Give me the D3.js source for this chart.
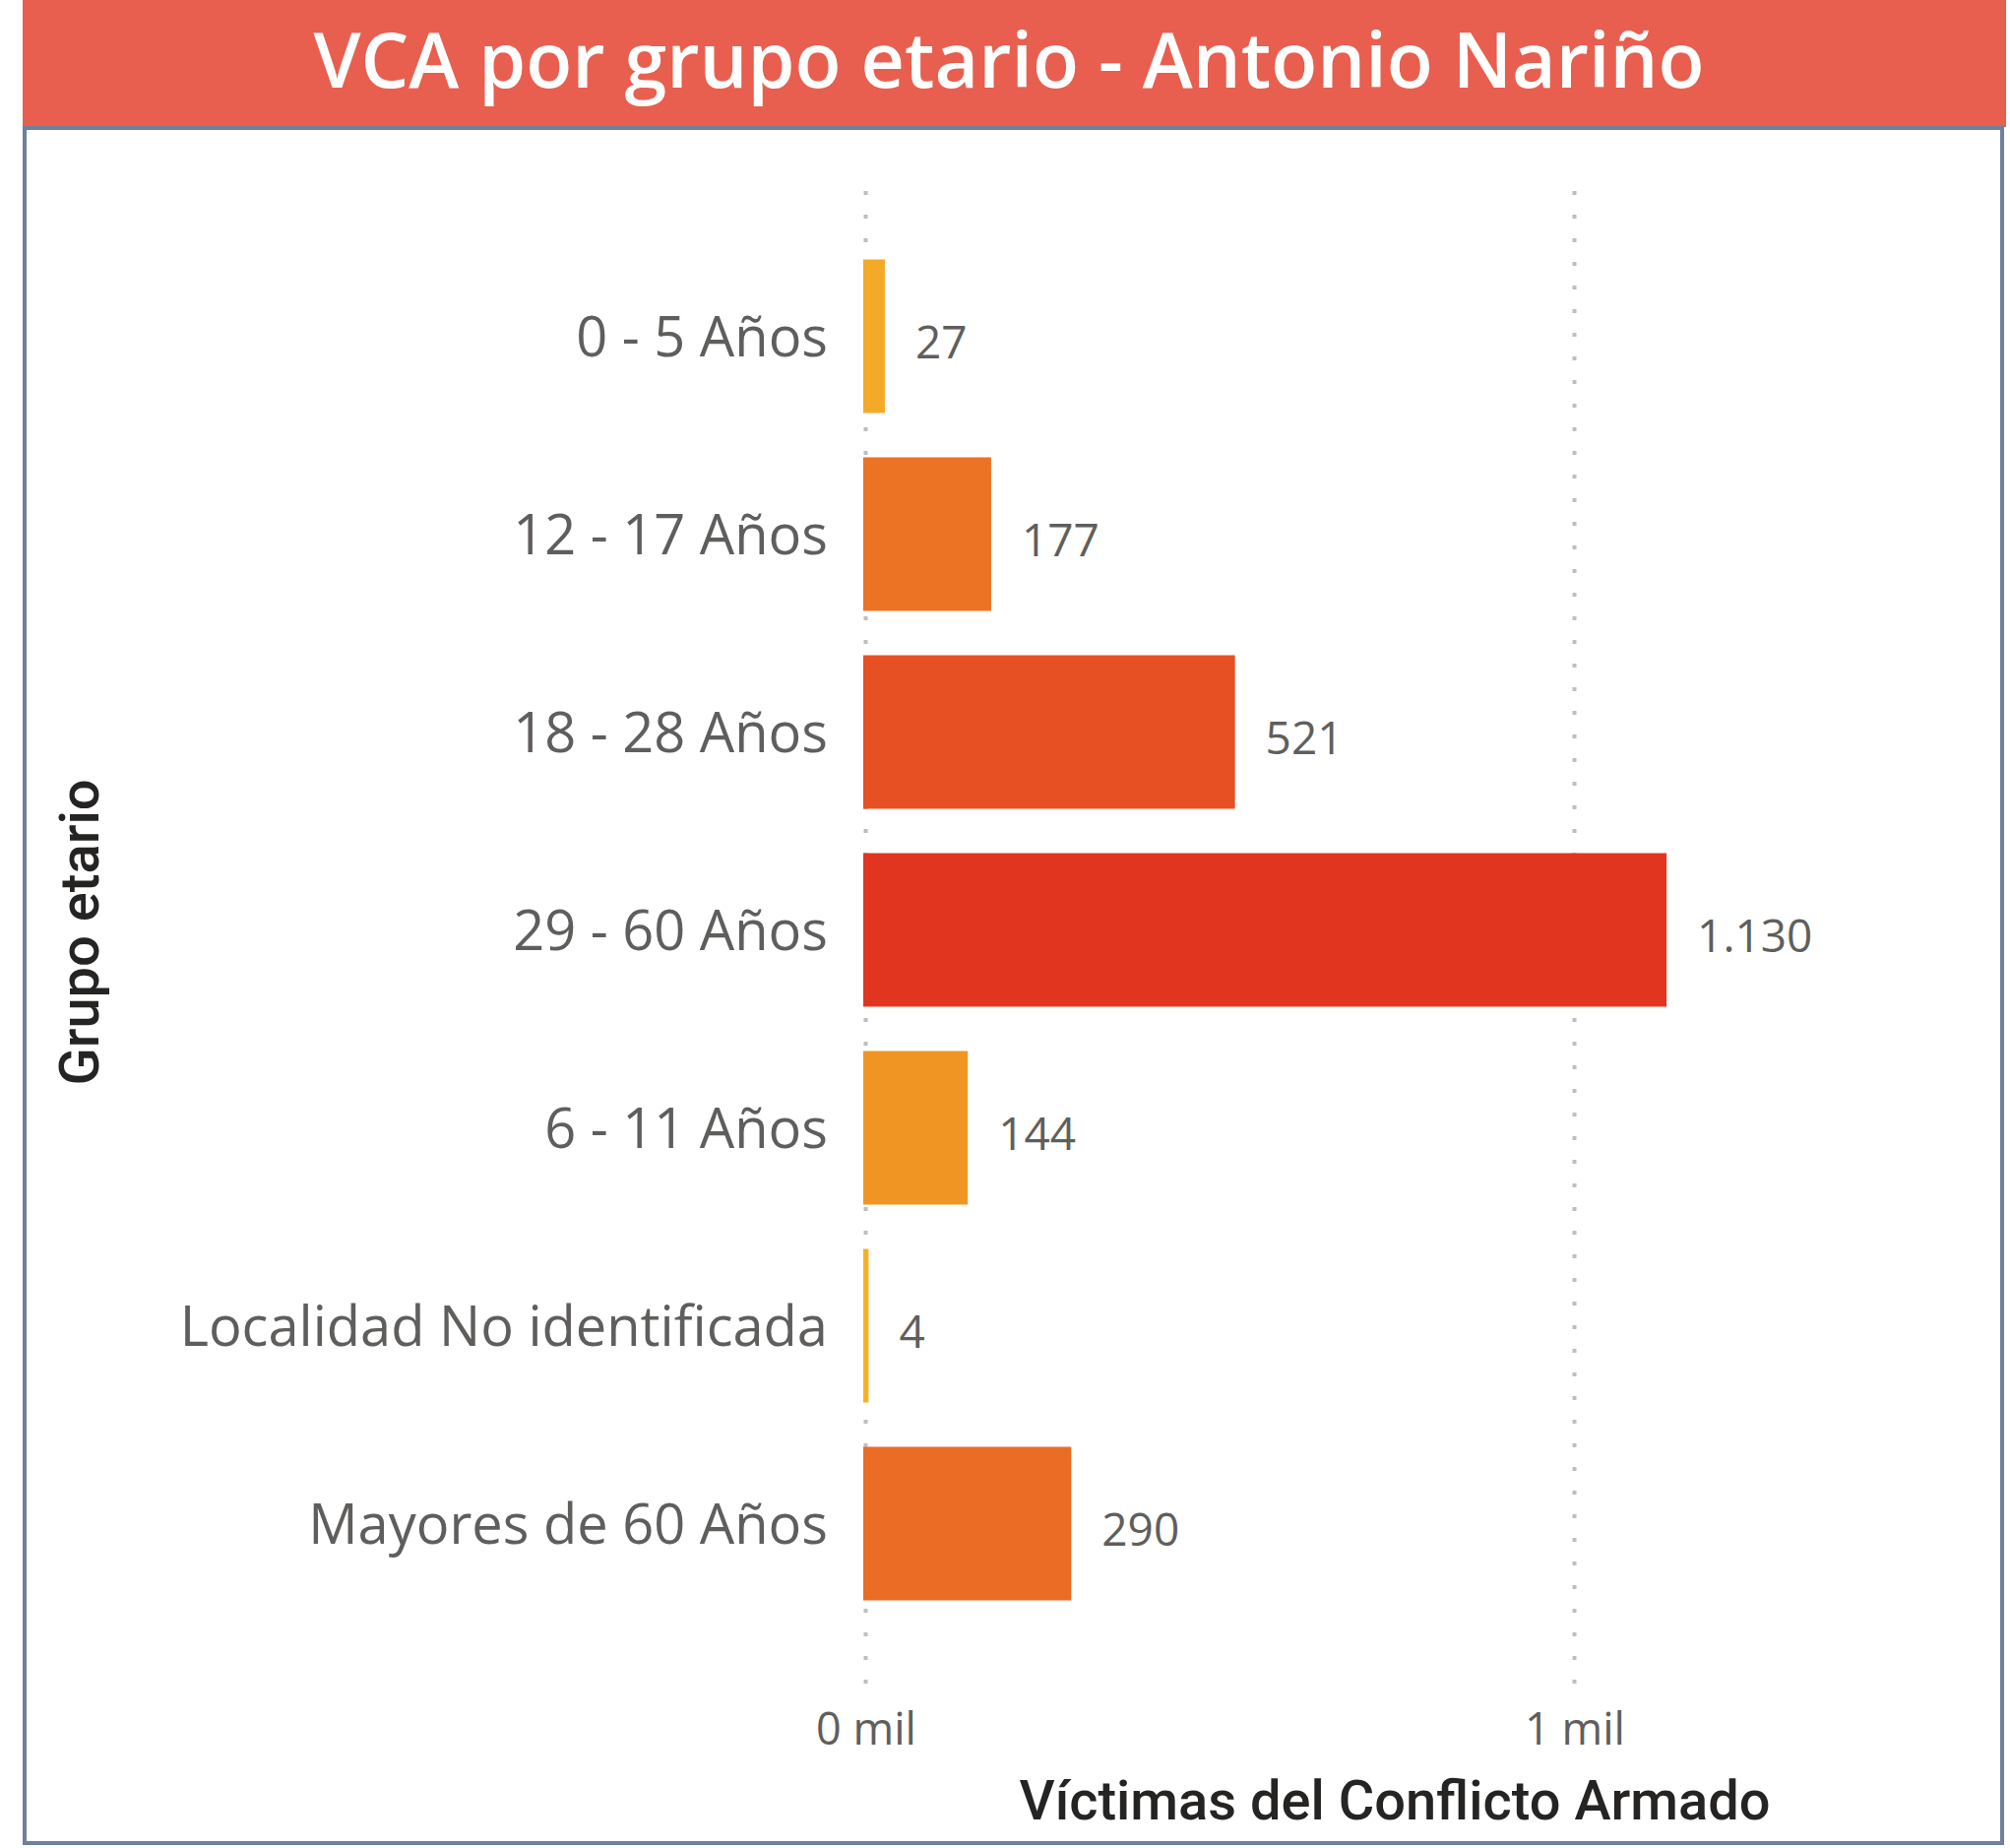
<!DOCTYPE html>
<html>
<head>
<meta charset="utf-8">
<script src="https://cdn.jsdelivr.net/npm/d3@7"></script>
<style>
  body { margin: 0; background: #fff; }
  svg { display: block; }
</style>
</head>
<body>
<svg id="chart" width="2042" height="1877"></svg>
<script>
// data
var categorias = ["0 - 5 Años", "12 - 17 Años", "18 - 28 Años", "29 - 60 Años",
                  "6 - 11 Años", "Localidad No identificada", "Mayores de 60 Años"];
var victimas = [27, 177, 521, 1130, 144, 4, 290];
var ticks = [0, 1000];
var tickLabels = ["0 mil", "1 mil"];
var barColors = ["#F4AA27", "#EC7323", "#E75022", "#E23520", "#F09524", "#F6B124", "#EB6C24"];

var titulo = "VCA por grupo etario - Antonio Nariño";
var tituloX = "Víctimas del Conflicto Armado";
var tituloY = "Grupo etario";

var filas = categorias.map(function(c, i){ return {cat: c, val: victimas[i]}; });

var svg = d3.select("#chart");

// header band + frame
svg.append("rect")
  .attr("x", 23).attr("y", 0)
  .attr("width", 2015).attr("height", 129)
  .attr("fill", "#E85F4F");

svg.append("rect")
  .attr("x", 25).attr("y", 130)
  .attr("width", 2009).attr("height", 1742)
  .attr("fill", "none")
  .attr("stroke", "#6F7F9C")
  .attr("stroke-width", 4);

svg.append("text")
  .attr("x", 1025).attr("y", 89)
  .attr("text-anchor", "middle")
  .attr("font-family", "'Open Sans', sans-serif")
  .attr("font-weight", 600)
  .attr("font-size", 78)
  .attr("fill", "#fff")
  .attr("textLength", 1413)
  .attr("lengthAdjust", "spacingAndGlyphs")
  .text(titulo);

var x = d3.scaleLinear().domain([0, 1000]).range([879.5, 1599.5]);
var y = d3.scaleBand().domain(categorias)
  .range([241, 1648]).paddingInner(0.224).paddingOuter(0.112);
var color = d3.scaleOrdinal(categorias, barColors);

// dotted gridlines
svg.append("g").selectAll("line")
  .data(ticks)
  .join("line")
    .attr("x1", function(d){ return x(d); })
    .attr("x2", function(d){ return x(d); })
    .attr("y1", 194).attr("y2", 1712)
    .attr("stroke", "#BEBEBE")
    .attr("stroke-width", 4)
    .attr("stroke-dasharray", "4,20");

// tick labels
var xAxis = d3.axisBottom(x).tickValues(ticks)
  .tickFormat(function(d, i){ return tickLabels[i]; })
  .tickSize(0).tickPadding(0);
var gx = svg.append("g").attr("transform", "translate(0,1772)").call(xAxis);
gx.select(".domain").remove();
gx.selectAll("text")
  .attr("dy", null).attr("y", 0)
  .attr("font-family", "'Open Sans', sans-serif")
  .attr("font-size", 45)
  .attr("fill", "#605E5C");

// category labels
var yAxis = d3.axisLeft(y).tickSize(0).tickPadding(0);
var gy = svg.append("g").attr("transform", "translate(841,0)").call(yAxis);
gy.select(".domain").remove();
gy.selectAll("text")
  .attr("dy", "0.37em")
  .attr("font-family", "'Open Sans', sans-serif")
  .attr("font-size", 56)
  .attr("fill", "#605E5C");

// bars (start a touch left so the zero gridline sits under them)
var x0 = x(0) - 2.5;
svg.append("g").selectAll("rect")
  .data(filas)
  .join("rect")
    .attr("x", x0)
    .attr("y", function(d){ return y(d.cat); })
    .attr("width", function(d){ return Math.max(x(d.val) - x0, 4); })
    .attr("height", y.bandwidth())
    .attr("fill", function(d){ return color(d.cat); });

// value labels
var fmt = d3.formatLocale({decimal: ",", thousands: ".", grouping: [3], currency: ["$", ""]}).format(",d");
svg.append("g").selectAll("text")
  .data(filas)
  .join("text")
    .attr("x", function(d){ return Math.max(x(d.val), x0 + 4) + 31; })
    .attr("y", function(d){ return y(d.cat) + y.bandwidth() / 2 + 22; })
    .attr("font-family", "'Open Sans', sans-serif")
    .attr("font-size", 46)
    .attr("fill", "#605E5C")
    .text(function(d){ return fmt(d.val); });

// axis titles
svg.append("text")
  .attr("x", 1417).attr("y", 1848)
  .attr("text-anchor", "middle")
  .attr("font-family", "Roboto, sans-serif")
  .attr("font-weight", 500)
  .attr("font-size", 55)
  .attr("fill", "#252423")
  .attr("textLength", 763)
  .attr("lengthAdjust", "spacingAndGlyphs")
  .text(tituloX);

svg.append("text")
  .attr("transform", "translate(100,947) rotate(-90)")
  .attr("text-anchor", "middle")
  .attr("font-family", "Roboto, sans-serif")
  .attr("font-weight", 500)
  .attr("font-size", 55)
  .attr("fill", "#252423")
  .attr("textLength", 311)
  .attr("lengthAdjust", "spacingAndGlyphs")
  .text(tituloY);
</script>
</body>
</html>
